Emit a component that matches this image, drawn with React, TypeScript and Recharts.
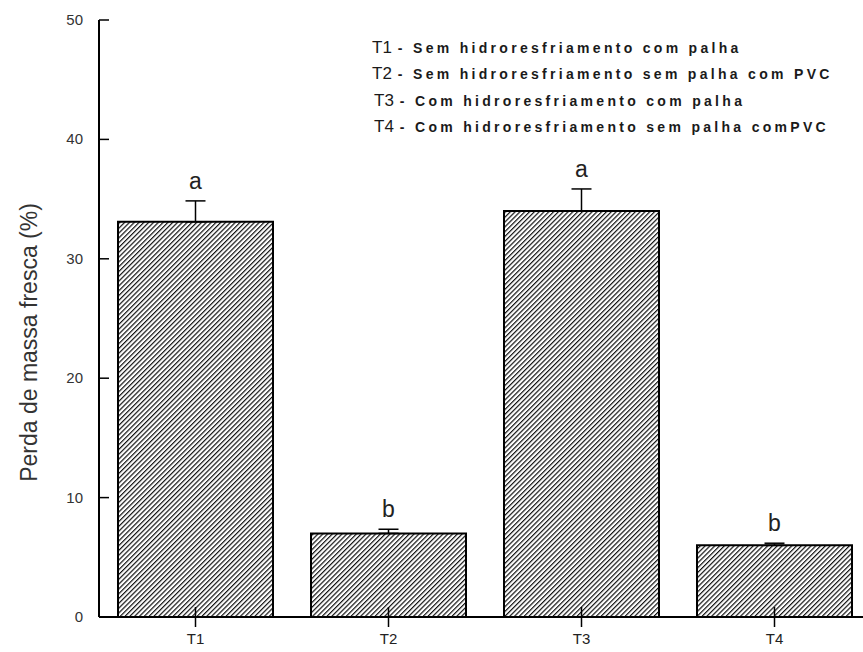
import { ComposedChart, Bar, Line, XAxis, YAxis, ErrorBar, LabelList } from 'recharts';

const categories = ['T1', 'T2', 'T3', 'T4'];
const perda = [33.1, 7.0, 34.0, 6.0];
const erro = [1.75, 0.35, 1.85, 0.18];
const letras = ['a', 'b', 'a', 'b'];
const yTicks = [0, 10, 20, 30, 40, 50];
const legendCodes = ['T1', 'T2', 'T3', 'T4'];
const legendTexts = [
    '- Sem hidroresfriamento com palha',
    '- Sem hidroresfriamento sem palha com PVC',
    '- Com hidroresfriamento com palha',
    '- Com hidroresfriamento sem palha comPVC',
];

const data = categories.map((name, i) => ({
    name,
    perda: perda[i],
    errRange: [0, erro[i]],
    top: perda[i] + erro[i],
    letra: letras[i],
}));

const font = '"Liberation Sans", Arial, sans-serif';

// ticks para dentro, como no original
const LeftTick = ({ x, y, payload }: any) => (
    <g>
        <line x1={x} x2={x + 10} y1={y} y2={y} stroke="#000" strokeWidth={1.5} />
        <text x={x - 16} y={y} dy={5} textAnchor="end" fontSize={15} fill="#333" fontFamily={font}>
            {payload.value}
        </text>
    </g>
);

const RightTick = ({ x, y }: any) => (
    <line x1={x - 10} x2={x} y1={y} y2={y} stroke="#000" strokeWidth={1.5} />
);

const BottomTick = ({ x, y, payload }: any) => (
    <g>
        <line x1={x} x2={x} y1={y - 10} y2={y + 10} stroke="#000" strokeWidth={1.5} />
        <text x={x} y={y + 27} textAnchor="middle" fontSize={15} fill="#222" fontFamily={font}>
            {payload.value}
        </text>
    </g>
);

const TopTick = ({ x, y }: any) => (
    <line x1={x} x2={x} y1={y} y2={y + 10} stroke="#000" strokeWidth={1.5} />
);

export default function App() {
    return (
        <div style={{ position: 'absolute', left: 0, top: 0, width: 863, height: 652, overflow: 'hidden', background: '#fff' }}>
            <ComposedChart width={880} height={652} data={data} margin={{ top: 20, right: 9, bottom: 0, left: 0 }}>
                <defs>
                    <pattern id="hatch" patternUnits="userSpaceOnUse" width={3.4} height={3.4} patternTransform="rotate(45)">
                        <rect width={3.4} height={3.4} fill="#fff" />
                        <line x1={0.6} y1={0} x2={0.6} y2={3.4} stroke="#111" strokeWidth={1.2} />
                    </pattern>
                </defs>
                <XAxis
                    dataKey="name"
                    height={35}
                    axisLine={{ stroke: '#000', strokeWidth: 2 }}
                    tickLine={false}
                    tickSize={0}
                    tickMargin={0}
                    tick={<BottomTick />}
                    interval={0}
                />
                <XAxis
                    xAxisId="top"
                    orientation="top"
                    dataKey="name"
                    height={0}
                    axisLine={{ stroke: '#000', strokeWidth: 2 }}
                    tickLine={false}
                    tickSize={0}
                    tickMargin={0}
                    tick={<TopTick />}
                    interval={0}
                />
                <YAxis
                    width={99}
                    domain={[0, 50]}
                    ticks={yTicks}
                    axisLine={{ stroke: '#000', strokeWidth: 2 }}
                    tickLine={false}
                    tickSize={0}
                    tickMargin={0}
                    tick={<LeftTick />}
                    label={{
                        value: 'Perda de massa fresca (%)',
                        angle: -90,
                        position: 'insideLeft',
                        offset: 29,
                        dy: 24,
                        style: { fontSize: 23, fill: '#333', fontFamily: font, textAnchor: 'middle' },
                    }}
                />
                <YAxis
                    yAxisId="right"
                    orientation="right"
                    width={0}
                    domain={[0, 50]}
                    ticks={yTicks}
                    axisLine={{ stroke: '#000', strokeWidth: 2 }}
                    tickLine={false}
                    tickSize={0}
                    tickMargin={0}
                    tick={<RightTick />}
                />
                <Bar dataKey="perda" barSize={155} fill="url(#hatch)" stroke="#000" strokeWidth={2} isAnimationActive={false}>
                    <ErrorBar dataKey="errRange" width={10} stroke="#000" strokeWidth={1.5} direction="y" />
                </Bar>
                <Line dataKey="top" stroke="none" dot={false} activeDot={false} isAnimationActive={false}>
                    <LabelList dataKey="letra" position="top" offset={12} style={{ fontSize: 23, fill: '#222', fontFamily: font }} />
                </Line>
            </ComposedChart>
            <div style={{ position: 'absolute', left: 372, top: 35, fontFamily: font, color: '#1a1a1a' }}>
                {legendCodes.map((code, i) => (
                    <div key={code} style={{ height: 26.3, lineHeight: '26px', whiteSpace: 'nowrap', marginLeft: i >= 2 ? 2 : 0 }}>
                        <span style={{ fontSize: 17 }}>{code}</span>
                        <span style={{ fontSize: 14, fontWeight: 700, letterSpacing: 3.3, marginLeft: 6 }}>{legendTexts[i]}</span>
                    </div>
                ))}
            </div>
        </div>
    );
}
